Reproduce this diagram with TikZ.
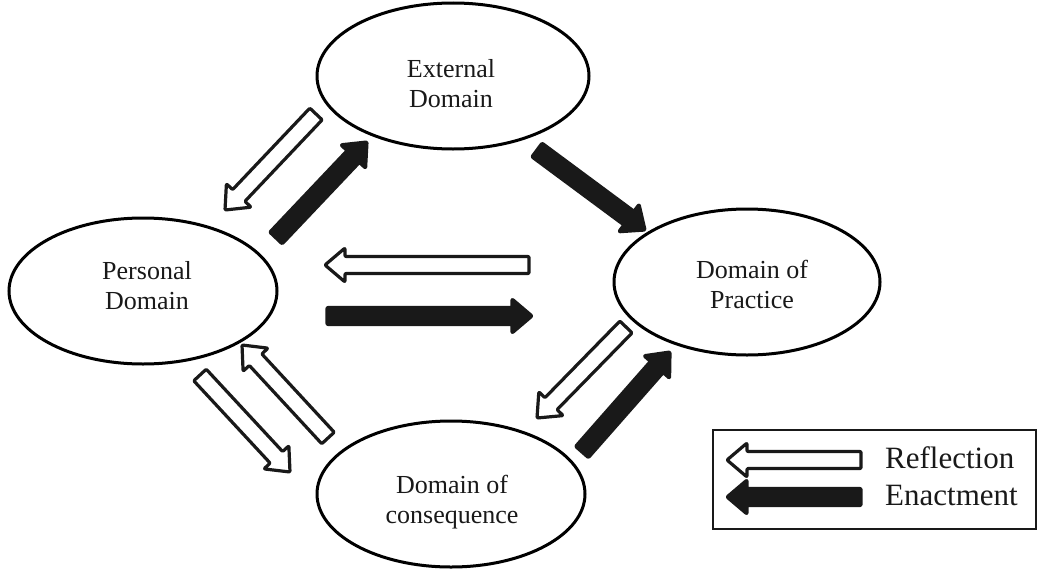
\documentclass[tikz,border=0pt]{standalone}
\usepackage{fontspec}
\setmainfont{Liberation Serif}
\usetikzlibrary{calc,shapes.geometric}
\tikzset{
  dom/.style={draw=black, line width=3pt, ellipse, inner sep=0pt},
  lbl/.style={align=center, font=\fontsize{26}{30}\selectfont, text=black!90, inner sep=0pt},
  leg/.style={font=\fontsize{31}{37}\selectfont, text=black!90, inner sep=0pt, anchor=base west},
  hollow/.style={draw=black!90, fill=white, line width=3.2pt, line join=round, rounded corners=1pt},
  solid/.style={draw=black!90, fill=black!90, line width=3.2pt, line join=round, rounded corners=1pt}
}
\newcommand\blockarr[3]{%
  \draw[#1]
    ($(#2)!8.5pt!90:(#3)$) -- ($($(#3)!20pt!(#2)$)!8.5pt!-90:(#2)$)
    -- ($($(#3)!20pt!(#2)$)!17pt!-90:(#2)$) -- (#3)
    -- ($($(#3)!20pt!(#2)$)!17pt!90:(#2)$) -- ($($(#3)!20pt!(#2)$)!8.5pt!90:(#2)$)
    -- ($(#2)!8.5pt!-90:(#3)$) -- cycle;}
\begin{document}
\begin{tikzpicture}[x=1pt,y=-1pt]
\useasboundingbox (0,0) rectangle (1041,570);
% domains
\node[dom, minimum width=272pt, minimum height=146pt] (ext) at (453,76) {};
\node[dom, minimum width=268pt, minimum height=146pt] (per) at (143,291) {};
\node[dom, minimum width=266pt, minimum height=146pt] (pra) at (747,282) {};
\node[dom, minimum width=268pt, minimum height=146pt] (con) at (451,494) {};
\node[lbl] (extt) at (451,84) {External\\Domain};
\node[lbl] (pert) at (147,286) {Personal\\Domain};
\node[lbl] (prat) at (752,284) {Domain of\\Practice};
\node[lbl] (cont) at (452,502) {Domain of\\consequence};
% arrow end points
\coordinate (a1s) at (316,114); \coordinate (a1e) at (225,210);
\coordinate (a2s) at (276,238); \coordinate (a2e) at (367,142);
\coordinate (a3s) at (537,150); \coordinate (a3e) at (645,230);
\coordinate (a4s) at (529,265); \coordinate (a4e) at (325,265);
\coordinate (a5s) at (327,316); \coordinate (a5e) at (532,316);
\coordinate (a6s) at (626,327); \coordinate (a6e) at (537,418);
\coordinate (a7s) at (582,452); \coordinate (a7e) at (670,352);
\coordinate (a8s) at (200,375); \coordinate (a8e) at (290,472);
\coordinate (a9s) at (328,438); \coordinate (a9e) at (242,345);
\blockarr{hollow}{a1s}{a1e}
\blockarr{solid}{a2s}{a2e}
\blockarr{solid}{a3s}{a3e}
\blockarr{hollow}{a4s}{a4e}
\blockarr{solid}{a5s}{a5e}
\blockarr{hollow}{a6s}{a6e}
\blockarr{solid}{a7s}{a7e}
\blockarr{hollow}{a8s}{a8e}
\blockarr{hollow}{a9s}{a9e}
% legend
\node[draw=black!90, line width=1.8pt, minimum width=323pt, minimum height=99pt, inner sep=0pt] (legbox) at (874.5,479.5) {};
\coordinate (l1s) at (861,460); \coordinate (l1e) at (727,460);
\coordinate (l2s) at (861,497); \coordinate (l2e) at (727,497);
\blockarr{hollow}{l1s}{l1e}
\blockarr{solid}{l2s}{l2e}
\node[leg] (reft) at (885,468) {Reflection};
\node[leg] (enat) at (885,505) {Enactment};
\end{tikzpicture}
\end{document}
